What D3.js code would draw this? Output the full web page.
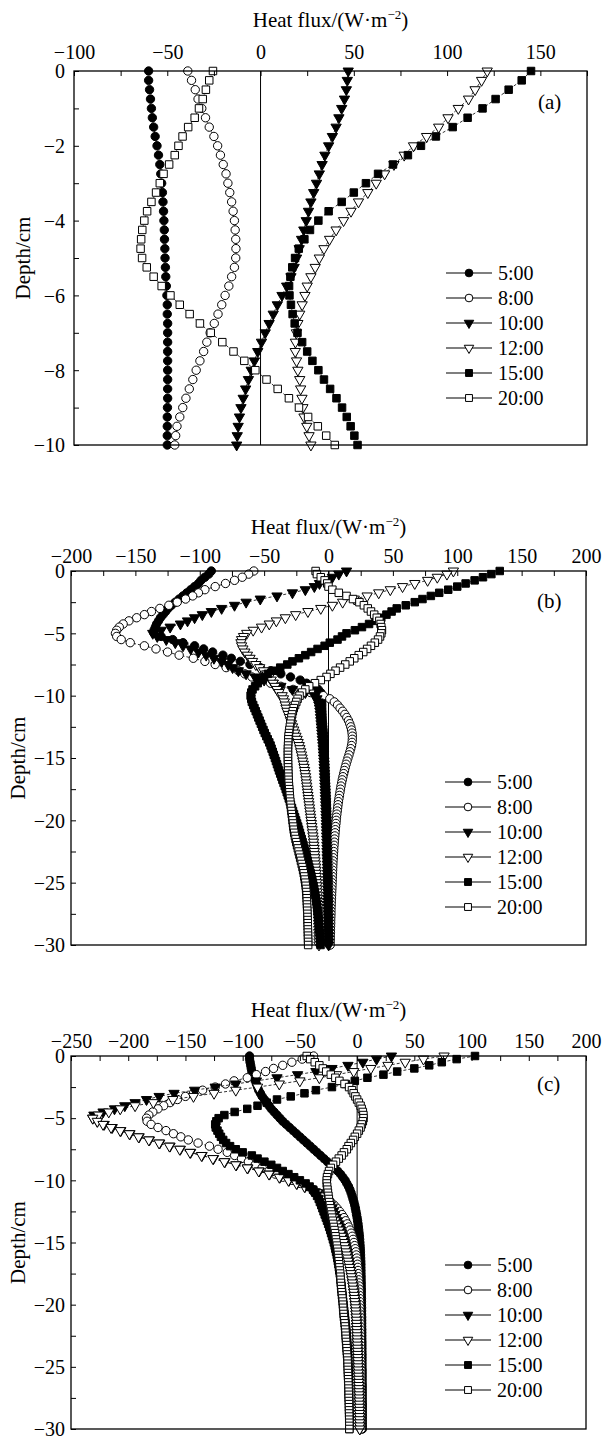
<!DOCTYPE html>
<html><head><meta charset="utf-8">
<script src="https://cdn.jsdelivr.net/npm/d3@7"></script>
<style>body{margin:0;background:#fff}</style>
</head><body>
<svg id="chart" width="603" height="1438" xmlns="http://www.w3.org/2000/svg"></svg>
<script>
// ---------------- DATA ----------------
const seriesNames = ["5:00","8:00","10:00","12:00","15:00","20:00"];

const depthA = [0,-0.25,-0.5,-0.75,-1,-1.25,-1.5,-1.75,-2,-2.25,-2.5,-2.75,-3,-3.25,-3.5,-3.75,-4,-4.25,-4.5,-4.75,-5,-5.25,-5.5,-5.75,-6,-6.25,-6.5,-6.75,-7,-7.25,-7.5,-7.75,-8,-8.25,-8.5,-8.75,-9,-9.25,-9.5,-9.75,-10];

const depthBC = [0,-0.25,-0.5,-0.75,-1,-1.25,-1.5,-1.75,-2,-2.25,-2.5,-2.75,-3,-3.25,-3.5,-3.75,-4,-4.25,-4.5,-4.75,-5,-5.25,-5.5,-5.75,-6,-6.25,-6.5,-6.75,-7,-7.25,-7.5,-7.75,-8,-8.25,-8.5,-8.75,-9,-9.25,-9.5,-9.75,-10,-10.25,-10.5,-10.75,-11,-11.25,-11.5,-11.75,-12,-12.25,-12.5,-12.75,-13,-13.25,-13.5,-13.75,-14,-14.25,-14.5,-14.75,-15,-15.25,-15.5,-15.75,-16,-16.25,-16.5,-16.75,-17,-17.25,-17.5,-17.75,-18,-18.25,-18.5,-18.75,-19,-19.25,-19.5,-19.75,-20,-20.25,-20.5,-20.75,-21,-21.25,-21.5,-21.75,-22,-22.25,-22.5,-22.75,-23,-23.25,-23.5,-23.75,-24,-24.25,-24.5,-24.75,-25,-25.25,-25.5,-25.75,-26,-26.25,-26.5,-26.75,-27,-27.25,-27.5,-27.75,-28,-28.25,-28.5,-28.75,-29,-29.25,-29.5,-29.75,-30];

// Panel (a)
const a0500 = [-60,-60,-59.5,-59,-58.5,-58,-57.3,-56.5,-55.5,-54.7,-54,-53.5,-53,-52.6,-52.3,-52,-51.8,-51.6,-51.5,-51.3,-51.2,-51,-50.8,-50.5,-50.2,-50,-50,-49.8,-49.8,-49.8,-49.8,-49.8,-49.8,-49.8,-49.8,-49.8,-49.9,-50,-50,-50,-50];
const a0800 = [-39,-37,-35,-33.5,-31.5,-29.5,-27.5,-25,-23,-21.5,-20,-18.5,-17.5,-16.5,-15.5,-14.7,-14,-13.6,-13.3,-13.2,-13.3,-14,-15.5,-17,-19,-20.8,-22.8,-24.8,-27,-28.8,-30.5,-32.5,-34.5,-36.3,-38.2,-40,-41.7,-43.3,-44.8,-45.5,-46];
const a1000 = [47,46.5,46,45,43.5,42,40.5,38.5,36.5,34.5,33,31.5,30,28.5,27,25.7,24.5,23.2,22,20.7,19.3,18,16.3,14,11.5,9,6.8,4.6,2.5,0.5,-1.5,-3.3,-5,-6.5,-8,-9.3,-10.5,-11.3,-12,-12.5,-12.8];
const a1200 = [121.5,118.5,115,111.5,106,100.5,95.5,89,82,77,71.5,66.5,62,57.5,52.5,48.5,44.5,40.5,37,34,31.5,29.3,27,25,23.8,22.3,21,20,19.2,18.7,18.6,19.3,20,21,21.5,22.2,22.7,23.3,24.8,26,27];
const a1500 = [145,140,133,126,119,111,103,94,86,79,71,63,56.5,50,43.5,36.5,31,26.5,23.5,20.5,18.5,17,16,15.3,15.5,16.3,17.2,18.3,19.8,22.3,25,27.8,31,34,37.3,40.7,43.7,46.2,48.3,50.3,52];
const a2000 = [-25.5,-27.5,-29.3,-31,-33,-35.3,-38.8,-41.8,-44,-46,-49,-52,-54,-56,-58.5,-60.8,-62.3,-63.4,-64,-64.3,-63.5,-61,-57.3,-53,-48.3,-43.3,-38,-32.5,-26.7,-20.5,-14.5,-8.7,-2.8,3.2,9.2,15.2,20.6,25.5,30.7,35.2,39.8];

// Panel (b)
const b0500 = [-91,-93,-96,-99,-101,-104,-107,-110,
-113,-116,-119,-122,-124.5,-126.5,-128.5,-130.5,
-132,-133.5,-134.5,-135.5,-135.5,-130,-121,-113,
-104,-97,-90,-82,-75.5,-68.5,-61,-53,
-45,-37,-29.5,-22,-17,-12,-8,-6,
-5.5,-5.3,-5.2,-5.2,-5.2,-5.1,-5,-4.9,
-4.8,-4.6,-4.4,-4.2,-4,-3.9,-3.7,-3.6,
-3.5,-3.4,-3.3,-3.2,-3.1,-3,-2.9,-2.8,
-2.7,-2.6,-2.5,-2.4,-2.3,-2.2,-2.1,-2,
-1.9,-1.8,-1.7,-1.6,-1.5,-1.4,-1.4,-1.3,
-1.2,-1.1,-1.1,-1,-0.9,-0.9,-0.8,-0.7,
-0.7,-0.6,-0.6,-0.5,-0.5,-0.4,-0.4,-0.3,
-0.3,-0.2,-0.2,-0.1,-0.1,0,0,0.1,
0.1,0.2,0.2,0.3,0.3,0.3,0.4,0.4,
0.4,0.5,0.5,0.5,0.6,0.6,0.6,0.7,
0.7];
const b0800 = [-58,-62,-67,-73,-80,-88,-96,-101,
-105.5,-111,-117.5,-124,-131,-137.5,-143,-149,
-155,-159.5,-162.5,-164.5,-165.5,-164.5,-161,-154,
-143,-134,-125,-116,-105,-96,-88,-79.5,
-70,-65,-59.5,-53,-45,-37,-27.5,-14,
-4,1,4.5,7,9,11,12.7,14.2,
15.5,16.5,17.3,17.9,18.3,18.5,18.5,18.3,
17.9,17.3,16.6,15.9,15.1,14.4,13.7,13,
12.4,11.8,11.2,10.7,10.2,9.7,9.3,8.9,
8.5,8.1,7.7,7.4,7.1,6.8,6.5,6.2,
6,5.8,5.5,5.3,5.1,4.9,4.7,4.5,
4.3,4.1,4,3.8,3.7,3.5,3.4,3.3,
3.2,3.1,3,2.9,2.8,2.7,2.6,2.5,
2.4,2.3,2.2,2.1,2,1.9,1.9,1.8,
1.7,1.7,1.6,1.5,1.5,1.4,1.4,1.3,
1.3];
const b1000 = [14,8,3,-2,-7,-11,-18,-28,
-40,-53,-64,-73,-83,-91,-98,-104,
-109.5,-115,-123,-130,-136.5,-133,-126,-119,
-113,-107,-101,-95,-89,-83,-78,-74.5,
-70,-64,-57,-50,-43,-37,-28,-18,
-11,-9,-8,-7.5,-7,-6.7,-6.4,-6.2,
-6,-5.8,-5.6,-5.4,-5.2,-5,-4.8,-4.6,
-4.4,-4.2,-4.1,-3.9,-3.8,-3.6,-3.5,-3.4,
-3.3,-3.2,-3.1,-3,-2.9,-2.8,-2.7,-2.6,
-2.5,-2.4,-2.3,-2.2,-2.1,-2,-2,-1.9,
-1.8,-1.7,-1.7,-1.6,-1.5,-1.5,-1.4,-1.3,
-1.3,-1.2,-1.2,-1.1,-1.1,-1,-1,-0.9,
-0.9,-0.8,-0.8,-0.7,-0.7,-0.6,-0.6,-0.5,
-0.5,-0.5,-0.4,-0.4,-0.3,-0.3,-0.3,-0.2,
-0.2,-0.2,-0.1,-0.1,0,0,0,0.1,
0.1];
const b1200 = [97,92,84.5,77,67,57.5,48,39,
30,20,11,3,-6,-16,-25.5,-33.5,
-40.5,-46,-52,-58.5,-63.5,-66,-67.5,-68,
-67.5,-66.5,-65,-63,-61,-59,-56.5,-53.5,
-50.5,-48,-46,-44.5,-43,-41.5,-40,-38.5,
-36,-35,-34.3,-33.6,-33,-32.2,-31.2,-30.3,
-29.5,-28.7,-27.9,-27,-26.2,-25.3,-24.4,-23.6,
-22.8,-22.2,-21.6,-21,-20.5,-20,-19.5,-19,
-18.6,-18.2,-17.8,-17.5,-17.2,-16.9,-16.6,-16.3,
-16,-15.7,-15.4,-15.1,-14.8,-14.5,-14.2,-13.9,
-13.6,-13.3,-13,-12.7,-12.4,-12.1,-11.8,-11.6,
-11.4,-11.2,-11,-10.8,-10.6,-10.4,-10.2,-10,
-9.8,-9.6,-9.5,-9.3,-9.2,-9,-8.9,-8.8,
-8.6,-8.5,-8.4,-8.3,-8.2,-8.1,-8,-7.9,
-7.8,-7.8,-7.7,-7.6,-7.6,-7.5,-7.5,-7.4,
-7.4];
const b1500 = [133,126.5,120,113.5,106.5,100,93,86,
79.5,73,67,60,53,49,45,41,
36.5,31.5,26,20.5,14,10.5,7,1,
-3,-8.5,-13.5,-18,-23,-28,-32,-37.5,
-42.5,-47,-50,-53,-55,-57,-59,-60,
-60.5,-60,-59.5,-58.5,-57.5,-56.5,-55.5,-54.5,
-53.5,-52.5,-51.5,-50.5,-49.5,-48.3,-47.2,-46,
-45,-44.2,-43.3,-42.5,-41.6,-40.8,-40,-39.2,
-38.4,-37.5,-36.6,-35.8,-34.9,-34,-33.2,-32.4,
-31.6,-30.8,-30,-29.2,-28.4,-27.6,-26.8,-26,
-25.2,-24.4,-23.6,-22.9,-22.2,-21.5,-20.8,-20.1,
-19.4,-18.7,-18,-17.4,-16.8,-16.2,-15.6,-15,
-14.4,-13.8,-13.2,-12.6,-12.1,-11.6,-11.1,-10.6,
-10.2,-9.8,-9.4,-9.1,-8.8,-8.5,-8.2,-8,
-7.7,-7.5,-7.3,-7.1,-6.9,-6.7,-6.5,-6.3,
-6.2];
const b2000 = [-10,-9,-6,-3,-1,0,3,8,
14,19,24,27.5,30.5,33,35.5,37.5,
39.5,40.5,41,41.5,41,40,38.5,36,
33,30,27,23.5,20,16.5,13,9,
5.5,1.5,-1.5,-6,-10.5,-15,-18,-20.5,
-22.5,-24,-25,-26,-27,-27.7,-28.3,-28.8,
-29.2,-29.6,-30,-30.4,-30.7,-31,-31.2,-31.3,
-31.4,-31.5,-31.5,-31.5,-31.5,-31.5,-31.4,-31.4,
-31.3,-31.2,-31.1,-31,-30.9,-30.7,-30.5,-30.3,
-30.1,-29.9,-29.7,-29.4,-29.1,-28.8,-28.5,-28.2,
-27.9,-27.6,-27.3,-27,-26.6,-26.1,-25.6,-25,
-24.4,-23.8,-23.2,-22.6,-22,-21.4,-20.8,-20.2,
-19.7,-19.2,-18.8,-18.4,-18,-17.7,-17.4,-17.2,
-17,-16.9,-16.8,-16.7,-16.6,-16.5,-16.4,-16.3,
-16.2,-16.1,-16.1,-16,-16,-15.9,-15.9,-15.8,
-15.8];

// Panel (c)
const c0500 = [-94,-94,-93.5,-93,-92.5,-92,-91,-90,
-89,-88,-87,-86,-84.5,-83,-81,-79,
-77,-75,-72.5,-70,-67.5,-65,-62,-59,
-56,-53,-50,-47,-44,-41,-38,-35,
-32,-29,-26,-23,-20,-17,-14.5,-12.5,
-10.5,-9,-7.5,-6.3,-5.3,-4.4,-3.6,-2.8,
-2.1,-1.5,-1,-0.5,0,0.4,0.8,1.1,
1.4,1.7,2,2.2,2.4,2.6,2.8,2.9,
3,3.1,3.2,3.3,3.3,3.4,3.4,3.5,
3.5,3.6,3.6,3.7,3.7,3.7,3.8,3.8,
3.8,3.9,3.9,3.9,4,4,4,4,
4.1,4.1,4.1,4.1,4.2,4.2,4.2,4.2,
4.3,4.3,4.3,4.3,4.3,4.4,4.4,4.4,
4.4,4.4,4.5,4.5,4.5,4.5,4.5,4.5,
4.6,4.6,4.6,4.6,4.6,4.6,4.6,4.6,
4.6];
const c0800 = [-38,-48,-57,-65,-73,-80,-88,-96,
-107.5,-115,-124,-135,-143,-150,-157,-163.5,
-169,-174,-178.5,-182,-184,-183.5,-180,-174,
-167,-160.5,-154,-147.5,-139,-129,-121.5,-113.5,
-107,-101,-95,-89,-83,-77,-71.5,-65,
-57,-49.5,-43.5,-38,-33.5,-29.5,-26,-23,
-20,-17.5,-15.3,-13.3,-11.5,-10,-8.6,-7.3,
-6.2,-5.2,-4.3,-3.5,-2.8,-2.2,-1.6,-1.1,
-0.7,-0.3,0,0.3,0.6,0.8,1,1.2,
1.4,1.5,1.7,1.8,1.9,2,2.1,2.2,
2.3,2.4,2.4,2.5,2.6,2.6,2.7,2.7,
2.8,2.8,2.9,2.9,3,3,3,3.1,
3.1,3.1,3.2,3.2,3.2,3.3,3.3,3.3,
3.3,3.4,3.4,3.4,3.4,3.5,3.5,3.5,
3.5,3.5,3.6,3.6,3.6,3.6,3.6,3.6,
3.7];
const c1000 = [30,17,5,-8,-22,-36,-52,-70,
-88,-106,-124,-142,-160,-173,-184,-194,
-203,-212,-222,-230,-231,-227,-221,-214,
-206.5,-198.5,-190.5,-181.5,-172.5,-163.5,-154.5,-145.5,
-135.5,-125.5,-115.5,-105.5,-95.5,-85.5,-76.5,-67.5,
-59.5,-52.5,-45.5,-39.5,-34.5,-30.5,-27.5,-25,
-23.5,-22,-20.7,-19.5,-18.4,-17.3,-16.3,-15.3,
-14.4,-13.5,-12.6,-11.8,-11,-10.3,-9.6,-9,
-8.4,-7.8,-7.2,-6.7,-6.2,-5.7,-5.2,-4.8,
-4.4,-4,-3.6,-3.2,-2.9,-2.6,-2.3,-2,
-1.7,-1.4,-1.2,-1,-0.8,-0.6,-0.5,-0.4,
-0.3,-0.2,-0.1,0,0.1,0.2,0.3,0.4,
0.5,0.6,0.7,0.8,0.9,1,1.1,1.2,
1.3,1.4,1.5,1.6,1.7,1.8,1.9,1.9,
2,2,2.1,2.1,2.2,2.2,2.3,2.3,
2.3];
const c1200 = [76,58,42,27,12,-3,-18,-33,
-50,-68,-87,-106,-125,-143,-161,-178,
-194,-207,-217,-226,-231,-227,-222,-215,
-207,-199,-191,-182,-173,-164,-155,-146,
-136,-126,-116,-106,-96,-86,-77,-68,
-60,-53,-46,-40,-35,-31,-28,-26,
-25,-24,-22.8,-21.6,-20.5,-19.4,-18.2,-17,
-15.8,-14.6,-13.5,-12.6,-11.8,-11,-10.3,-9.6,
-9,-8.4,-7.8,-7.2,-6.6,-6,-5.5,-5,
-4.5,-4.1,-3.7,-3.3,-2.9,-2.6,-2.3,-2,
-1.7,-1.4,-1.2,-1,-0.8,-0.6,-0.5,-0.4,
-0.3,-0.2,-0.1,0,0.1,0.2,0.3,0.4,
0.5,0.6,0.7,0.8,0.9,1,1.1,1.2,
1.3,1.4,1.5,1.6,1.7,1.8,1.9,1.9,
2,2,2.1,2.1,2.2,2.2,2.3,2.3,
2.3];
const c1500 = [103,87,74,63,50,35,23,9,
-2,-10,-22,-36,-46,-58,-70,-79,
-87,-96,-107,-116,-121,-123,-124,-123.5,
-122,-120.5,-119,-117,-114.5,-111,-106,-100,
-92,-87,-81,-75,-70,-65,-60,-55,
-50,-45,-41.5,-38.5,-36.5,-35,-33.5,-32.5,
-31.3,-30.3,-29.3,-28.3,-27.3,-26.3,-25.3,-24.4,
-23.5,-22.7,-21.9,-21.1,-20.3,-19.6,-19,-18.4,
-17.8,-17.3,-16.8,-16.3,-15.9,-15.5,-15.1,-14.7,
-14.3,-14,-13.7,-13.4,-13.1,-12.8,-12.5,-12.2,
-11.9,-11.6,-11.3,-11,-10.7,-10.4,-10.1,-9.8,
-9.5,-9.3,-9.1,-8.9,-8.7,-8.5,-8.3,-8.1,
-8,-7.9,-7.8,-7.7,-7.6,-7.5,-7.4,-7.3,
-7.2,-7.2,-7.1,-7.1,-7,-7,-7,-6.9,
-6.9,-6.9,-6.9,-6.8,-6.8,-6.8,-6.8,-6.8,
-6.8];
const c2000 = [-44,-41,-37,-33,-30,-27,-23,-19,
-15.5,-11,-7,-4.5,-3,-1.5,0,1.5,
3,4,5,5.5,5.6,5,4,3,
1.5,0,-2,-3.5,-5.5,-7.5,-9,-11.5,
-13.5,-16,-18.5,-21,-23,-24.5,-25.5,-26.3,
-26.5,-26.5,-26.2,-25.9,-25.5,-25.1,-24.7,-24.3,
-23.8,-23.3,-22.8,-22.3,-21.8,-21.3,-20.8,-20.3,
-19.8,-19.3,-18.9,-18.5,-18.1,-17.7,-17.3,-16.9,
-16.6,-16.3,-16,-15.7,-15.4,-15.1,-14.8,-14.6,
-14.4,-14.2,-14,-13.8,-13.5,-13.2,-12.9,-12.6,
-12.4,-12.2,-12,-11.8,-11.5,-11.2,-10.9,-10.6,
-10.4,-10.2,-10,-9.8,-9.6,-9.4,-9.2,-9,
-8.8,-8.6,-8.4,-8.3,-8.2,-8.1,-8,-7.9,
-7.8,-7.7,-7.6,-7.5,-7.4,-7.3,-7.3,-7.2,
-7.1,-7.1,-7,-7,-6.9,-6.9,-6.8,-6.8,
-6.8];

// Tick labels
const xTicksA = [-100,-50,0,50,100,150];
const xMinorA = [-75,-25,25,75,125,175];
const yTicksA = [0,-2,-4,-6,-8,-10];
const yMinorA = [-1,-3,-5,-7,-9];
const xTicksB = [-200,-150,-100,-50,0,50,100,150,200];
const xMinorB = [-175,-125,-75,-25,25,75,125,175];
const xTicksC = [-250,-200,-150,-100,-50,0,50,100,150,200];
const xMinorC = [-225,-175,-125,-75,-25,25,75,125,175];
const yTicksBC = [0,-5,-10,-15,-20,-25,-30];
const yMinorBC = [-2.5,-7.5,-12.5,-17.5,-22.5,-27.5];

// ---------------- LAYOUT ----------------
const FONT = "'Liberation Serif','Times New Roman',serif";
const panels = [
  {tag:"(a)", depth:depthA, series:[a0500,a0800,a1000,a1200,a1500,a2000],
   xDom:[-100,175], xT:xTicksA, xM:xMinorA, yDom:[-10,0], yT:yTicksA, yM:yMinorA,
   l:74, r:587, t:71, b:445, titleDy:-44, xPad:12, yPad:9, ylabX:23, legDy:202, tagDy:38},
  {tag:"(b)", depth:depthBC, series:[b0500,b0800,b1000,b1200,b1500,b2000],
   xDom:[-200,200], xT:xTicksB, xM:xMinorB, yDom:[-30,0], yT:yTicksBC, yM:yMinorBC,
   l:71, r:586, t:571, b:945, titleDy:-37, xPad:8, yPad:6, ylabX:18, legDy:211, tagDy:37},
  {tag:"(c)", depth:depthBC, series:[c0500,c0800,c1000,c1200,c1500,c2000],
   xDom:[-250,200], xT:xTicksC, xM:xMinorC, yDom:[-30,0], yT:yTicksBC, yM:yMinorBC,
   l:71, r:586, t:1056, b:1429, titleDy:-39, xPad:8.5, yPad:6, ylabX:18, legDy:209, tagDy:35}
];

const markers = [
  {type:d3.symbolCircle,   size:55, fill:"#000", rot:0},
  {type:d3.symbolCircle,   size:55, fill:"#fff", rot:0},
  {type:d3.symbolTriangle, size:46, fill:"#000", rot:180},
  {type:d3.symbolTriangle, size:46, fill:"#fff", rot:180},
  {type:d3.symbolSquare,   size:56, fill:"#000", rot:0},
  {type:d3.symbolSquare,   size:56, fill:"#fff", rot:0}
];

const svg = d3.select("#chart");
svg.append("rect").attr("width",603).attr("height",1438).attr("fill","#fff");
const fmt = d3.format("d");

panels.forEach(p => {
  const x = d3.scaleLinear().domain(p.xDom).range([p.l, p.r]);
  const y = d3.scaleLinear().domain(p.yDom).range([p.b, p.t]);
  const g = svg.append("g");

  // zero line
  g.append("line").attr("x1",x(0)).attr("x2",x(0)).attr("y1",p.t).attr("y2",p.b)
    .attr("stroke","#000").attr("stroke-width",1);

  // series
  const line = d3.line().x(d=>x(d[0])).y(d=>y(d[1]));
  p.series.forEach((vals,i) => {
    const pts = vals.map((v,k)=>[v,p.depth[k]]);
    g.append("path").attr("d",line(pts)).attr("fill","none")
      .attr("stroke","#000").attr("stroke-width",0.8).attr("stroke-dasharray","3,2");
    const m = markers[i];
    const sym = d3.symbol().type(m.type).size(m.size);
    g.append("g").selectAll("path").data(pts).join("path")
      .attr("d",sym)
      .attr("transform",d=>`translate(${x(d[0])},${y(d[1])}) rotate(${m.rot})`)
      .attr("fill",m.fill).attr("stroke","#000").attr("stroke-width",1);
  });

  // frame
  g.append("rect").attr("x",p.l).attr("y",p.t).attr("width",p.r-p.l).attr("height",p.b-p.t)
    .attr("fill","none").attr("stroke","#000").attr("stroke-width",1.3);

  // top axis
  const xa = d3.axisTop(x).tickValues(p.xT.concat(p.xM)).tickSizeInner(-5).tickSizeOuter(0)
    .tickPadding(p.xPad).tickFormat(d => p.xT.includes(d) ? fmt(d) : "");
  const gx = g.append("g").attr("transform",`translate(0,${p.t})`).call(xa);
  gx.select(".domain").remove();
  gx.selectAll("line").attr("stroke","#000").attr("stroke-width",1);
  gx.selectAll("text").attr("font-family",FONT).attr("font-size",20).attr("fill","#000").attr("dy","0");

  // left axis
  const ya = d3.axisLeft(y).tickValues(p.yT.concat(p.yM)).tickSizeInner(-5).tickSizeOuter(0)
    .tickPadding(p.yPad).tickFormat(d => p.yT.includes(d) ? fmt(d) : "");
  const gy = g.append("g").attr("transform",`translate(${p.l},0)`).call(ya);
  gy.select(".domain").remove();
  gy.selectAll("line").attr("stroke","#000").attr("stroke-width",1);
  gy.selectAll("text").attr("font-family",FONT).attr("font-size",20).attr("fill","#000").attr("dy","0.34em");

  // title
  const cx = (p.l+p.r)/2;
  const tt = g.append("text").attr("x",cx).attr("y",p.t+p.titleDy).attr("text-anchor","middle")
    .attr("font-family",FONT).attr("font-size",21).attr("fill","#000");
  tt.append("tspan").text("Heat flux/(W\u00b7m");
  tt.append("tspan").attr("dy",-8).attr("font-size",13).text("\u22122");
  tt.append("tspan").attr("dy",8).text(")");

  // y label
  g.append("text").attr("transform",`translate(${p.ylabX},${(p.t+p.b)/2}) rotate(-90)`)
    .attr("text-anchor","middle").attr("dy","0.35em")
    .attr("font-family",FONT).attr("font-size",21).attr("fill","#000").text("Depth/cm");

  // panel tag
  g.append("text").attr("x",p.r-49).attr("y",p.t+p.tagDy)
    .attr("font-family",FONT).attr("font-size",21).attr("fill","#000").text(p.tag);

  // legend
  seriesNames.forEach((name,i) => {
    const ly = p.t + p.legDy + i*25;
    const mx = p.r - 118;
    g.append("line").attr("x1",mx-23).attr("x2",mx+23).attr("y1",ly).attr("y2",ly)
      .attr("stroke","#000").attr("stroke-width",1.2);
    const m = markers[i];
    g.append("path").attr("d",d3.symbol().type(m.type).size(m.size*0.85)())
      .attr("transform",`translate(${mx},${ly}) rotate(${m.rot})`)
      .attr("fill",m.fill).attr("stroke","#000").attr("stroke-width",1);
    g.append("text").attr("x",mx+29).attr("y",ly).attr("dy","0.35em")
      .attr("font-family",FONT).attr("font-size",20).attr("fill","#000").text(name);
  });
});
</script>
</body></html>
